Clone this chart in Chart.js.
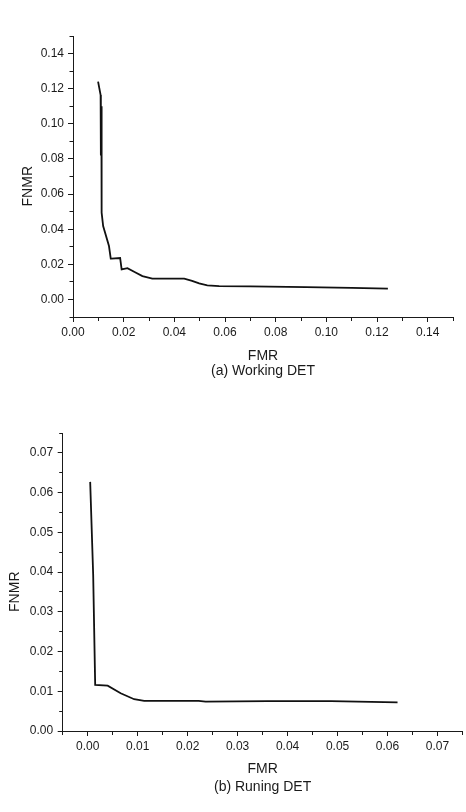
<!DOCTYPE html>
<html>
<head>
<meta charset="utf-8">
<title>DET curves</title>
<script src="https://cdn.jsdelivr.net/npm/chart.js@4.4.0/dist/chart.umd.min.js"></script>
<style>
  html, body { margin: 0; padding: 0; background: #fff; }
  body { width: 466px; height: 812px; position: relative; overflow: hidden; }
  canvas { position: absolute; left: 0; }
  #workingChart { top: 0; }
  #runningChart { top: 406px; }
</style>
</head>
<body>
<canvas id="workingChart" width="466" height="406"></canvas>
<canvas id="runningChart" width="466" height="406"></canvas>
<script>
// (a) Working DET
const workingFmr  = [0.0099, 0.0109, 0.0110, 0.0112, 0.0113, 0.0119, 0.0142, 0.0149, 0.0152, 0.0186, 0.0192, 0.0215, 0.0245, 0.0274, 0.0313, 0.0439, 0.0470, 0.0498, 0.0530, 0.0577, 0.0700, 0.0920, 0.1100, 0.1243];
const workingFnmr = [0.1240, 0.1164, 0.0820, 0.1100, 0.0494, 0.0418, 0.0304, 0.0232, 0.0232, 0.0236, 0.0171, 0.0178, 0.0155, 0.0133, 0.0118, 0.0118, 0.0106, 0.0091, 0.0080, 0.0076, 0.0074, 0.0070, 0.0066, 0.0061];

// (b) Runing DET
const runningFmr  = [0.0005, 0.0011, 0.0015, 0.0040, 0.0066, 0.0093, 0.0113, 0.0222, 0.0236, 0.0360, 0.0487, 0.0620];
const runningFnmr = [0.0627, 0.0392, 0.0116, 0.0114, 0.0095, 0.0080, 0.0076, 0.0076, 0.0074, 0.0075, 0.0075, 0.0072];

const FONT = "'Liberation Sans', Arial, sans-serif";
const INK = "#1a1a1a";

// every other tick is a labelled major one, the rest are short minor ticks
function isMajor(value, step) {
  return Math.round(value / step) % 2 === 0;
}

function makeAxis({ min, max, step, vertical, title, titleLineHeight, titlePadding, size, labelPadding }) {
  return {
    type: "linear",
    position: vertical ? "left" : "bottom",
    min,
    max,
    border: { color: INK, width: 1 },
    grid: {
      drawOnChartArea: false,
      tickLength: 5,
      tickColor: INK,
      tickWidth: 1,
      // left ticks are drawn from the outside in, bottom ticks from the axis out
      tickBorderDash: (ctx) => {
        if (!ctx.tick || isMajor(ctx.tick.value, step)) return [];
        return vertical ? [0, 1.5, 4, 20] : [3, 20];
      }
    },
    ticks: {
      stepSize: step,
      autoSkip: false,
      maxRotation: 0,
      padding: labelPadding,
      color: INK,
      font: { family: FONT, size: 12 },
      callback: (v) => (isMajor(v, step) ? Number(v).toFixed(2) : "")
    },
    title: {
      display: true,
      text: title,
      color: INK,
      font: { family: FONT, size: 14, lineHeight: titleLineHeight },
      padding: titlePadding
    },
    afterFit: (scale) => {
      if (vertical) scale.width = size;
      else scale.height = size;
    }
  };
}

function makeChart(id, fmr, fnmr, xAxis, yAxis, padding) {
  const points = fmr.map((x, i) => ({ x, y: fnmr[i] }));
  return new Chart(document.getElementById(id), {
    type: "scatter",
    data: {
      datasets: [{
        data: points,
        showLine: true,
        borderColor: "#111",
        borderWidth: 1.8,
        pointRadius: 0,
        tension: 0,
        fill: false
      }]
    },
    options: {
      responsive: false,
      animation: false,
      layout: { padding },
      plugins: { legend: { display: false }, tooltip: { enabled: false } },
      scales: { x: xAxis, y: yAxis }
    }
  });
}

makeChart(
  "workingChart",
  workingFmr,
  workingFnmr,
  makeAxis({ min: 0, max: 0.15, step: 0.01, vertical: false, title: ["FMR", "(a) Working DET"],
             titleLineHeight: 1.04, titlePadding: { top: 0, bottom: 0 }, size: 61, labelPadding: 3 }),
  makeAxis({ min: -0.01, max: 0.15, step: 0.01, vertical: true, title: "FNMR     ",
             titleLineHeight: 1.2, titlePadding: { top: 19.6, bottom: 0 }, size: 73, labelPadding: 4 }),
  { left: 0, top: 36, right: 13, bottom: 28 }
);

makeChart(
  "runningChart",
  runningFmr,
  runningFnmr,
  makeAxis({ min: -0.005, max: 0.075, step: 0.005, vertical: false, title: ["FMR", "(b) Runing DET"],
             titleLineHeight: 1.29, titlePadding: { top: 0, bottom: 0 }, size: 65.3, labelPadding: 3.5 }),
  makeAxis({ min: 0, max: 0.075, step: 0.005, vertical: true, title: "FNMR     ",
             titleLineHeight: 1.2, titlePadding: { top: 6.6, bottom: 0 }, size: 62.7, labelPadding: 4.5 }),
  { left: 0, top: 27, right: 1, bottom: 15.7 }
);
</script>
</body>
</html>
